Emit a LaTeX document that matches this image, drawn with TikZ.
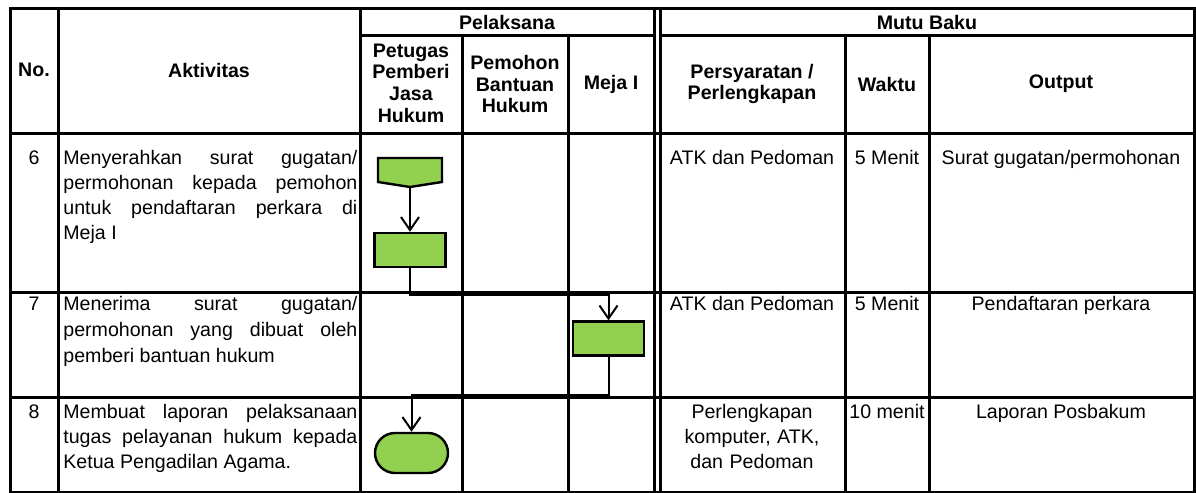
\documentclass[tikz,border=0pt]{standalone}
\usepackage{fontspec}
\setmainfont{Liberation Sans}
\usepackage{xcolor}
\definecolor{flowGreen}{HTML}{92D050}
\usetikzlibrary{arrows.meta}

\newcommand\isifont{\fontsize{9.8}{12.6}\selectfont\tolerance=10000\hbadness=10000\relax}
\newcommand\isifontlebar{\fontsize{9.8}{13.2}\selectfont\tolerance=10000\hbadness=10000\relax}
\newcommand\judulfont{\fontsize{9.8}{10.8}\selectfont\bfseries}

\begin{document}
\begin{tikzpicture}[x=0.5pt, y=-0.5pt,
  grid/.style={line width=1.5pt},
  judul/.style={align=center, font=\judulfont, inner sep=0pt},
  isi/.style={anchor=base, align=center, font=\isifont, inner sep=0pt},
  isiblok/.style={isi, text width=90pt},
  aktivitas/.style={anchor=base west, text width=147pt, align=justify, font=\isifont, inner sep=0pt},
  proses/.style={rectangle, draw, line width=1.2pt, fill=flowGreen, minimum width=35.5pt, minimum height=17pt},
  akhir/.style={rectangle, rounded corners=10pt, draw, line width=1.2pt, fill=flowGreen, minimum width=36.5pt, minimum height=20pt},
  alur/.style={line width=1pt, -{Straight Barb[length=6.5pt,width=9pt]}}]
  \useasboundingbox (0,0) rectangle (1196,493);

  % tabel
  \draw[grid] (10,8) rectangle (1194,492);
  \draw[grid] (10,133) -- (1194,133);
  \draw[grid] (10,292) -- (1194,292);
  \draw[grid] (10,397) -- (1194,397);
  \draw[grid] (360,35) -- (654,35);
  \draw[grid] (660,35) -- (1194,35);
  \foreach \x in {58,360,654,660} \draw[grid] (\x,8) -- (\x,492);
  \foreach \x in {462,568,845,929} \draw[grid] (\x,35) -- (\x,492);

  % judul kolom
  \node[judul] (no) at (34,70) {No.};
  \node[judul] (akt) at (209,70) {Aktivitas};
  \node[judul] (pel) at (507,22) {Pelaksana};
  \node[judul] (mutu) at (927,22) {Mutu Baku};
  \node[judul] (petugas) at (411,83) {Petugas\\Pemberi\\Jasa\\Hukum};
  \node[judul] (pemohon) at (515,84) {Pemohon\\Bantuan\\Hukum};
  \node[judul] (meja) at (611,84) {Meja I};
  \node[judul] (syarat) at (752,84) {Persyaratan /\\Perlengkapan};
  \node[judul] (waktu) at (887,84) {Waktu};
  \node[judul] (output) at (1061,84) {Output};

  % baris 6
  \node[isi] (n6) at (34,164) {6};
  \node[aktivitas] (a6) at (63,164) {Menyerahkan surat gugatan/\linebreak permohonan kepada pemohon\linebreak untuk pendaftaran perkara di\linebreak Meja I};
  \node[isi] (s6) at (752,164) {ATK dan Pedoman};
  \node[isi] (w6) at (887,164) {5 Menit};
  \node[isi] (o6) at (1061,164) {Surat gugatan/permohonan};

  % baris 7
  \node[isi] (n7) at (34,310) {7};
  \node[aktivitas, font=\isifontlebar] (a7) at (63,310) {Menerima surat gugatan/\linebreak permohonan yang dibuat oleh\linebreak pemberi bantuan hukum};
  \node[isi] (s7) at (752,310) {ATK dan Pedoman};
  \node[isi] (w7) at (887,310) {5 Menit};
  \node[isi] (o7) at (1061,310) {Pendaftaran perkara};

  % baris 8
  \node[isi] (n8) at (34,418) {8};
  \node[aktivitas] (a8) at (63,418) {Membuat laporan pelaksanaan\linebreak tugas pelayanan hukum kepada\linebreak Ketua Pengadilan Agama.};
  \node[isiblok] (s8) at (752,418) {Perlengkapan\\komputer, ATK,\\dan Pedoman};
  \node[isi] (w8) at (887,418) {10 menit};
  \node[isi] (o8) at (1061,418) {Laporan Posbakum};

  % bagan alur
  \draw[line width=1.2pt, fill=flowGreen] (378,158) -- (442,158) -- (442,182) -- (410,187) -- (378,182) -- cycle;
  \coordinate (kirim) at (410,187);
  \node[proses] (serah) at (410,250) {};
  \node[proses] (daftar) at (608.5,338.5) {};
  \node[akhir] (lapor) at (411.5,453) {};
  \draw[alur] (kirim) -- (serah);
  \draw[alur] (serah.south) -- ++(0,27) -| (daftar.north);
  \draw[alur] (daftar.south) -- ++(0,38) -| (lapor.north);
\end{tikzpicture}
\end{document}
